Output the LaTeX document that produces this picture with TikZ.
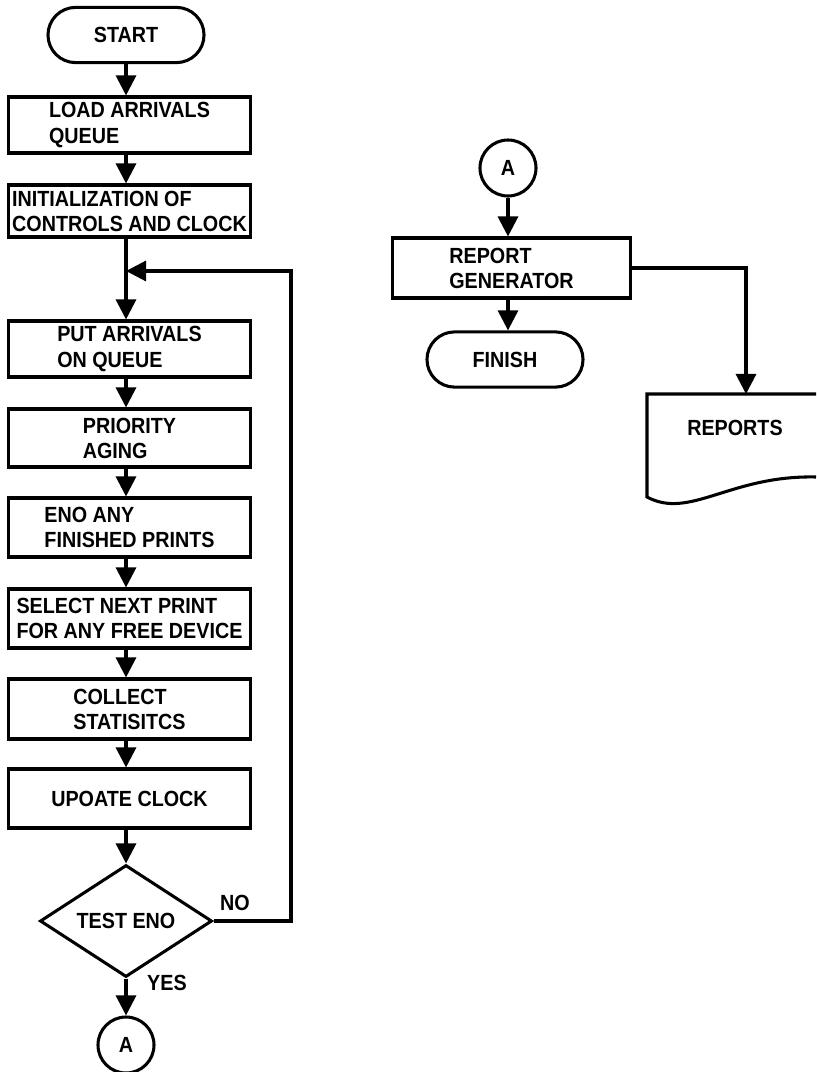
\documentclass[tikz,border=0pt]{standalone}
\usepackage{fontspec}
\setmainfont[FakeStretch=0.9]{Liberation Sans}
\usetikzlibrary{shapes.geometric,arrows.meta}

\begin{document}
\begin{tikzpicture}[x=0.025cm,y=-0.025cm,line width=.03in,
	every node/.style={font=\bfseries\fontsize{15.6}{17.8}\selectfont},
	box/.style={draw,rectangle,minimum width=6.025cm,align=left,inner sep=0pt},
	term/.style={draw,rectangle,rounded corners=0.69cm,minimum width=3.9cm,minimum height=1.38cm},
	conn/.style={draw,circle,minimum size=1.4cm,inner sep=0pt},
	flow/.style={-{Triangle[width=0.5cm,length=0.5cm]}}]
		\useasboundingbox (0,0) rectangle (816,1072);
		
		% main loop
		\node[term] (start) at (126,35) {START};
		\node[box,minimum height=1.4cm] (load) at (129.5,125) {LOAD ARRIVALS\\QUEUE};
		\node[box,minimum height=1.3cm] (init) at (129.5,211) {INITIALIZATION OF\\CONTROLS AND CLOCK};
		\node[box,minimum height=1.4cm] (put) at (129.5,349) {PUT ARRIVALS\\ON QUEUE};
		\node[box,minimum height=1.45cm] (prio) at (129.5,438) {PRIORITY\\AGING};
		\node[box,minimum height=1.475cm] (eno) at (129.5,527.5) {ENO ANY\\FINISHED PRINTS};
		\node[box,minimum height=1.475cm] (select) at (129.5,618.5) {SELECT NEXT PRINT\\FOR ANY FREE DEVICE};
		\node[box,minimum height=1.5cm] (collect) at (129.5,709) {COLLECT\\STATISITCS};
		\node[box,minimum height=1.475cm] (update) at (129.5,798.5) {UPOATE CLOCK};
		\node[draw,diamond,aspect=1.54,minimum width=4.3cm,minimum height=2.8cm,inner sep=0pt] (test) at (126,921) {TEST ENO};
		\node[conn] (conA) at (126,1045) {A};
		\node (no)  at (235,903) {NO};
		\node (yes) at (167,983) {YES};
		\coordinate (join) at (126,271);
		\coordinate (loop) at (291,271);
		
		\draw[flow] (start) -- (start |- load.north);
		\draw[flow] (load.south -| start) -- (init.north -| start);
		\draw[flow] (init.south -| start) -- (put.north -| start);
		\draw[flow] (put.south -| start) -- (prio.north -| start);
		\draw[flow] (prio.south -| start) -- (eno.north -| start);
		\draw[flow] (eno.south -| start) -- (select.north -| start);
		\draw[flow] (select.south -| start) -- (collect.north -| start);
		\draw[flow] (collect.south -| start) -- (update.north -| start);
		\draw[flow] (update.south -| test) -- (test.north);
		\draw[flow] (test.south) -- (conA.north);
		\draw[flow] (test.east) -| (loop) -- (join);
		
		% report part
		\node[conn] (conB) at (508,168) {A};
		\node[box,minimum width=5.925cm,minimum height=1.5cm] (report) at (511.5,268) {REPORT\\GENERATOR};
		\node[term] (finish) at (505,359.5) {FINISH};
		\node (reports) at (735,428) {REPORTS};
		\coordinate (doc) at (746,394);
		
		\draw[flow] (conB) -- (conB |- report.north);
		\draw[flow] (report.south -| conB) -- (finish.north -| conB);
		\draw[flow] (report.east) -| (doc);
		\draw (816,394) -- (647,394) -- (647,497) .. controls (690,520) and (730,475) .. (816,477);
		
\end{tikzpicture}
\end{document}
